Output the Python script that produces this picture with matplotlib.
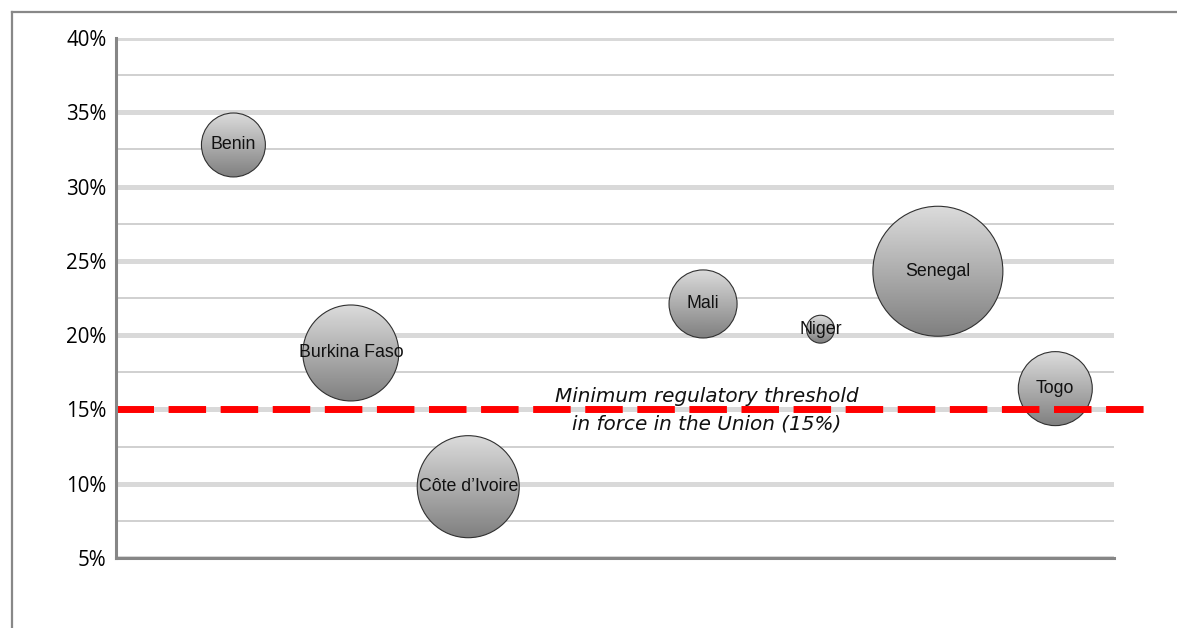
import numpy as np
import matplotlib
matplotlib.use("Agg")
import matplotlib.pyplot as plt
from matplotlib.patches import Ellipse
from matplotlib.lines import Line2D
from matplotlib.ticker import FuncFormatter, MultipleLocator

# Capital adequacy ratio by WAEMU country (%), bubble = relative size of banking system
countries = ["Benin", "Burkina Faso", "Côte d\u2019Ivoire", "Mali", "Niger", "Senegal", "Togo"]
x_pos = [1, 2, 3, 5, 6, 7, 8]
ratio = [32.8, 18.8, 9.8, 22.1, 20.4, 24.3, 16.4]
bubble_size = [24.2, 54.5, 61.6, 27.4, 4.6, 100.0, 32.4]
threshold = 15.0

W, H = 1177, 628
fig = plt.figure(figsize=(W / 100, H / 100), dpi=100)
ax = fig.add_axes([116 / W, (H - 558) / H, (1114 - 116) / W, (558 - 38) / H])
ax.set_xlim(0, 8.5)
ax.set_ylim(5, 40)

# gridlines: thick at 5%, thin in between
for v in np.arange(5, 40.1, 5):
    ax.axhline(v, color="#d9d9d9", lw=3.6, zorder=1)
for v in np.arange(7.5, 40, 5):
    ax.axhline(v, color="#c8c8c8", lw=1.2, zorder=1)

for side in ["top", "right"]:
    ax.spines[side].set_visible(False)
for side in ["left", "bottom"]:
    ax.spines[side].set_color("#868686")
    ax.spines[side].set_linewidth(2.2)
    ax.spines[side].set_zorder(6)
ax.set_xticks([])
ax.yaxis.set_major_locator(MultipleLocator(5))
ax.yaxis.set_major_formatter(FuncFormatter(lambda v, p: f"{v:.0f}%"))
ax.tick_params(axis="y", length=0, pad=7, labelsize=14.8)
for lab in ax.get_yticklabels():
    lab.set_fontfamily("Open Sans")

# bubbles: largest diameter = 25% of plot height, area proportional to size
fig.canvas.draw()
p0 = ax.transData.transform((0, 0))
p1 = ax.transData.transform((1, 1))
px_x, px_y = p1 - p0
r_max = 0.25 * (558 - 38) / 2
grad = np.linspace(0.86, 0.5, 256).reshape(-1, 1)
for name, x, y, s in zip(countries, x_pos, ratio, bubble_size):
    r = r_max * np.sqrt(s / max(bubble_size))
    w, h = 2 * r / px_x, 2 * r / px_y
    circ = Ellipse((x, y), w, h, facecolor="none", edgecolor="#303030", lw=0.8, zorder=4)
    ax.add_patch(circ)
    img = ax.imshow(grad, cmap="gray", vmin=0, vmax=1, aspect="auto",
                    extent=[x - w / 2, x + w / 2, y - h / 2, y + h / 2], zorder=3)
    img.set_clip_path(circ)
    ax.text(x, y, name, ha="center", va="center", fontsize=12.8,
            family="Liberation Sans", color="#111111", zorder=8)
ax.set_xlim(0, 8.5)
ax.set_ylim(5, 40)

# regulatory minimum
ax.plot([0, 8.83], [threshold, threshold], color="#ff0000", lw=5,
        dashes=(5.4, 2.1), zorder=5, clip_on=False, solid_capstyle="butt")
ax.text(5.03, threshold - 0.05, "Minimum regulatory threshold\nin force in the Union (15%)",
        ha="center", va="center", fontsize=14.4, style="italic",
        family="DejaVu Sans", linespacing=1.62, color="#111111", zorder=7)

# outer frame
fig.add_artist(Line2D([12 / W, 12 / W], [0, (H - 12) / H], color="#888888", lw=1.6))
fig.add_artist(Line2D([12 / W, 1], [(H - 12) / H, (H - 12) / H], color="#888888", lw=1.6))

fig.savefig("out.png", dpi=100)
